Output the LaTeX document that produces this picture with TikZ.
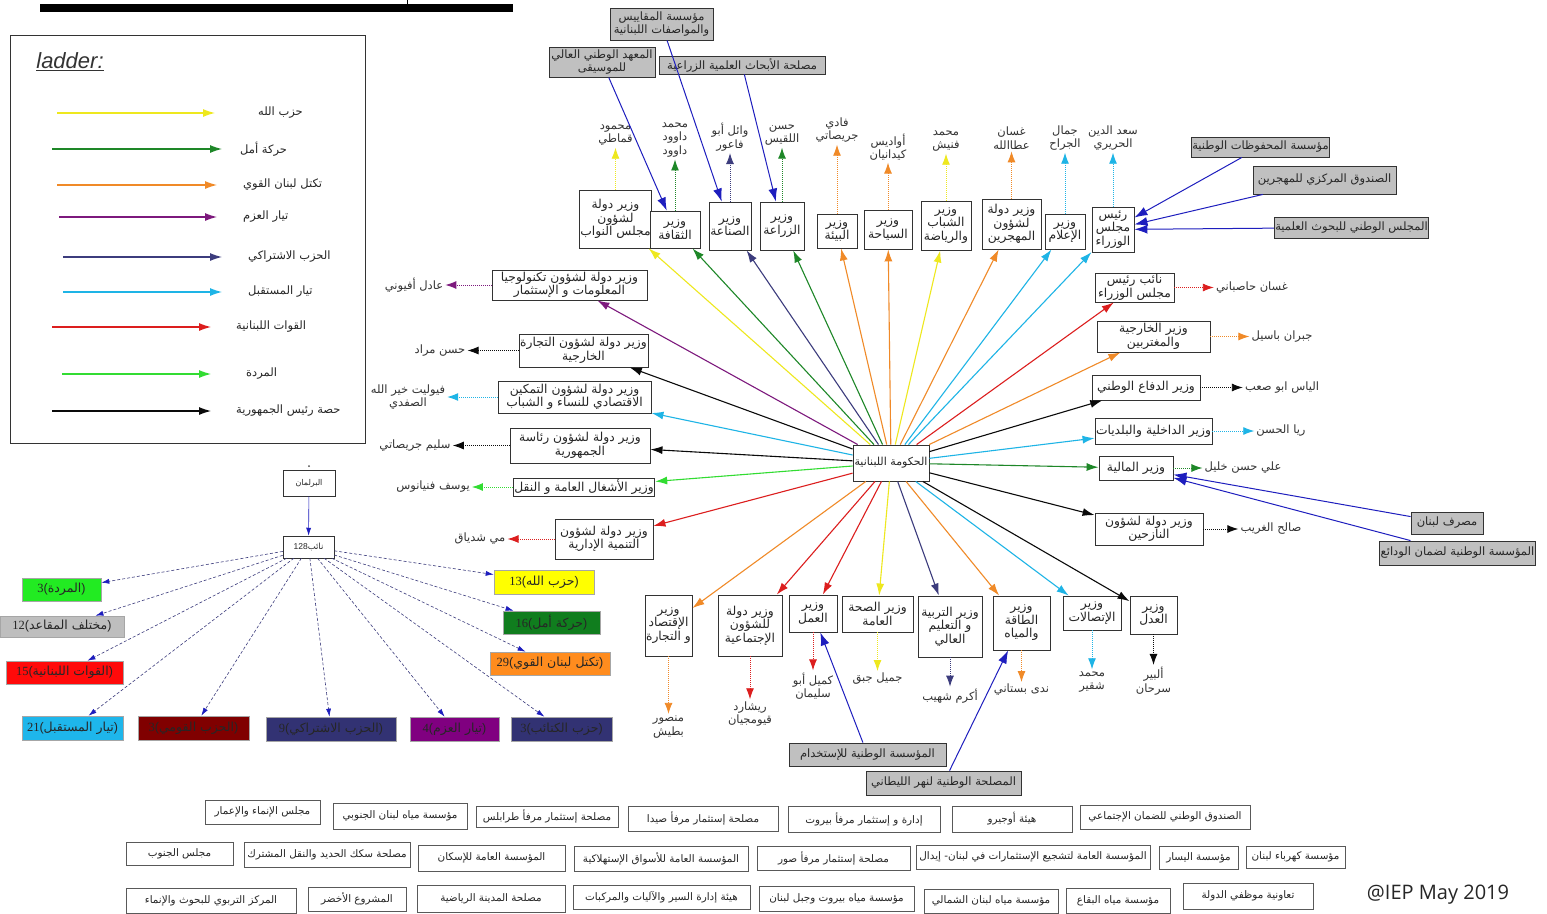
\documentclass[tikz,border=0pt]{standalone}
\usepackage{fontspec}
\usepackage{graphicx}
\usetikzlibrary{arrows.meta,calc}
\setmainfont{Liberation Sans}
\newfontfamily\arabicfont[Script=Arabic]{DejaVu Sans}
\newfontfamily\serifnum{Liberation Serif}
\newfontfamily\iepfont{Open Sans}
\TeXXeTstate=1
\newcommand\AR[1]{{\arabicfont\beginR #1\endR}}
\definecolor{cYel}{RGB}{238,232,30}
\definecolor{cGrn}{RGB}{30,135,40}
\definecolor{cOrg}{RGB}{240,138,40}
\definecolor{cPur}{RGB}{125,25,125}
\definecolor{cNav}{RGB}{60,60,125}
\definecolor{cCya}{RGB}{30,180,230}
\definecolor{cRed}{RGB}{220,30,30}
\definecolor{cLgr}{RGB}{50,220,50}
\definecolor{cBlk}{RGB}{10,10,10}
\definecolor{cBlu}{RGB}{30,30,190}
\definecolor{gFill}{RGB}{192,192,192}
\definecolor{pYel}{RGB}{255,255,0}
\definecolor{pDgr}{RGB}{16,125,30}
\definecolor{pOrg}{RGB}{255,140,30}
\definecolor{pLgr}{RGB}{34,235,34}
\definecolor{pGry}{RGB}{190,190,190}
\definecolor{pRed}{RGB}{255,10,10}
\definecolor{pCya}{RGB}{30,182,235}
\definecolor{pDrd}{RGB}{128,0,0}
\definecolor{pNav}{RGB}{50,50,115}
\definecolor{pPur}{RGB}{128,0,128}
\tikzset{
  box/.style={draw=black!80, line width=0.9pt, fill=white, inner sep=1pt, align=center,
    text=black!85, font=\fontsize{12.3}{13.5}\selectfont},
  gbox/.style={box, fill=gFill, font=\fontsize{11.5}{12.5}\selectfont},
  bbox/.style={draw=black!65, line width=0.7pt, fill=white, inner sep=1pt, align=center,
    text=black!85, font=\fontsize{10.4}{11}\selectfont},
  pbox/.style={draw=black!35, line width=0.6pt, inner sep=1pt, text=black!85,
    font=\fontsize{12.5}{14}\selectfont},
  lbl/.style={inner sep=1pt, align=center, text=black!80, font=\fontsize{11.5}{13.5}\selectfont},
  lgl/.style={inner sep=0pt, anchor=west, text=black!85, font=\fontsize{11.5}{12}\selectfont},
  edge/.style={line width=1.1pt, -{Latex[length=12pt,width=8pt]}},
  nmA/.style={line width=0.9pt, dash pattern=on 1pt off 1pt, shorten >=1pt, -{Latex[length=11pt,width=8pt]}},
  gA/.style={line width=1pt, cBlu, -{Latex[length=13pt,width=9pt]}},
  pline/.style={line width=0.6pt, cBlu, -{Latex[length=8pt,width=5pt]}},
  pdash/.style={line width=0.6pt, draw=cNav, dash pattern=on 3pt off 2pt, -{Latex[length=8pt,width=5pt,color=cBlu]}},
}
\begin{document}
\begin{tikzpicture}[x=1pt,y=-1pt]
\useasboundingbox (0,0) rectangle (1547,913);
\fill[white] (0,0) rectangle (1547,913);
% title bar (cut-off heading)
\fill[black] (40,4) rectangle (513,12);
\draw[line width=0.8pt] (407,0) -- (407,5);

% ---------------- legend ----------------
\draw[line width=0.8pt, black!80] (10,35) rectangle (365,443);
\node[inner sep=0pt, font=\fontsize{22}{24}\selectfont\rmfamily\itshape, text=black!80] (ladder) at (70,62) {\underline{ladder:}};
\draw[edge,cYel] (57,113) -- (215,113);
\node[lgl] (l1) at (258,113) {{\arabicfont\beginR حزب الله\endR}};
\draw[edge,cGrn] (52,149) -- (222,149);
\node[lgl] (l2) at (240,149) {{\arabicfont\beginR حركة أمل\endR}};
\draw[edge,cOrg] (57,185) -- (217,185);
\node[lgl] (l3) at (243,185) {{\arabicfont\beginR تكتل لبنان القوي\endR}};
\draw[edge,cPur] (59,217) -- (217,217);
\node[lgl] (l4) at (243,217) {{\arabicfont\beginR تيار العزم\endR}};
\draw[edge,cNav] (63,257) -- (222,257);
\node[lgl] (l5) at (248,257) {{\arabicfont\beginR الحزب الاشتراكي\endR}};
\draw[edge,cCya] (63,292) -- (222,292);
\node[lgl] (l6) at (248,292) {{\arabicfont\beginR تيار المستقبل\endR}};
\draw[edge,cRed] (52,327) -- (211,327);
\node[lgl] (l7) at (236,327) {{\arabicfont\beginR القوات اللبنانية\endR}};
\draw[edge,cLgr] (62,374) -- (211,374);
\node[lgl] (l8) at (246,374) {{\arabicfont\beginR المردة\endR}};
\draw[edge,cBlk] (52,411) -- (211,411);
\node[lgl] (l9) at (236,411) {{\arabicfont\beginR حصة رئيس الجمهورية\endR}};

% ---------------- centre ----------------
\node[box, minimum width=76, minimum height=36, font=\fontsize{11}{12}\selectfont] (gov) at (891,463) {\AR{الحكومة اللبنانية}};

% top ministers
\node[box, minimum width=69, minimum height=58] (mNuw) at (615.5,219) {\AR{وزير دولة}\\\AR{لشؤون}\\\AR{مجلس النواب}};
\node[box, minimum width=50, minimum height=37] (mTha) at (675,229.5) {\AR{وزير}\\\AR{الثقافة}};
\node[box, minimum width=42, minimum height=48] (mSin) at (730,226) {\AR{وزير}\\\AR{الصناعة}};
\node[box, minimum width=44, minimum height=48] (mZir) at (782,226) {\AR{وزير}\\\AR{الزراعة}};
\node[box, minimum width=40, minimum height=34] (mBii) at (837,231) {\AR{وزير}\\\AR{البيئة}};
\node[box, minimum width=48, minimum height=39] (mSiy) at (888,229.5) {\AR{وزير}\\\AR{السياحة}};
\node[box, minimum width=50, minimum height=49] (mShb) at (946,225.5) {\AR{وزير}\\\AR{الشباب}\\\AR{والرياضة}};
\node[box, minimum width=59, minimum height=50] (mMuh) at (1011.5,224) {\AR{وزير دولة}\\\AR{لشؤون}\\\AR{المهجرين}};
\node[box, minimum width=40, minimum height=35] (mIlm) at (1065,231.5) {\AR{وزير}\\\AR{الإعلام}};
\node[box, minimum width=42, minimum height=45] (mRai) at (1113,229.5) {\AR{رئيس}\\\AR{مجلس}\\\AR{الوزراء}};

% left ministers
\node[box, minimum width=155, minimum height=30] (mTek) at (569.5,285) {\AR{وزير دولة لشؤون تكنولوجيا}\\\AR{المعلومات و الإستثمار}};
\node[box, minimum width=129, minimum height=33] (mTij) at (583.5,350.5) {\AR{وزير دولة لشؤون التجارة}\\\AR{الخارجية}};
\node[box, minimum width=153, minimum height=32] (mTam) at (574.5,397) {\AR{وزير دولة لشؤون التمكين}\\\AR{الاقتصادي للنساء و الشباب}};
\node[box, minimum width=140, minimum height=35] (mRia) at (580,445.5) {\AR{وزير دولة لشؤون رئاسة}\\\AR{الجمهورية}};
\node[box, minimum width=140, minimum height=18] (mAsh) at (584,487) {\AR{وزير الأشغال العامة و النقل}};
\node[box, minimum width=98, minimum height=40] (mTan) at (604,539) {\AR{وزير دولة لشؤون}\\\AR{التنمية الإدارية}};

% right ministers
\node[box, minimum width=79, minimum height=29] (mNai) at (1134.5,287.5) {\AR{نائب رئيس}\\\AR{مجلس الوزراء}};
\node[box, minimum width=113, minimum height=31] (mKha) at (1153.5,336.5) {\AR{وزير الخارجية}\\\AR{والمغتربين}};
\node[box, minimum width=108, minimum height=25] (mDif) at (1146,387.5) {\AR{وزير الدفاع الوطني}};
\node[box, minimum width=113, minimum height=26] (mDak) at (1153.5,431) {\AR{وزير الداخلية والبلديات}};
\node[box, minimum width=74, minimum height=24] (mMal) at (1136,468) {\AR{وزير المالية}};
\node[box, minimum width=108, minimum height=32] (mNaz) at (1149,529) {\AR{وزير دولة لشؤون}\\\AR{النازحين}};

% bottom ministers
\node[box, minimum width=47, minimum height=61] (mIqt) at (668.5,625.5) {\AR{وزير}\\\AR{الإقتصاد}\\\AR{و التجارة}};
\node[box, minimum width=64, minimum height=61] (mIjt) at (750,625.5) {\AR{وزير دولة}\\\AR{للشؤون}\\\AR{الإجتماعية}};
\node[box, minimum width=48, minimum height=37] (mAml) at (813,613.5) {\AR{وزير}\\\AR{العمل}};
\node[box, minimum width=71, minimum height=36] (mSih) at (877.5,614) {\AR{وزير الصحة}\\\AR{العامة}};
\node[box, minimum width=64, minimum height=61] (mTar) at (950,626.5) {\AR{وزير التربية}\\\AR{و التعليم}\\\AR{العالي}};
\node[box, minimum width=57, minimum height=54] (mTaq) at (1021.5,623) {\AR{وزير}\\\AR{الطاقة}\\\AR{والمياه}};
\node[box, minimum width=58, minimum height=34] (mItt) at (1092,613) {\AR{وزير}\\\AR{الإتصالات}};
\node[box, minimum width=47, minimum height=38] (mAdl) at (1153.5,615) {\AR{وزير}\\\AR{العدل}};

% ---------------- names ----------------
\node[lbl] (nNuw) at (615.5,135) {\AR{محمود}\\\AR{قماطي}};
\node[lbl] (nTha) at (675,140) {\AR{محمد}\\\AR{داوود}\\\AR{داوود}};
\node[lbl] (nSin) at (730,137) {\AR{وائل أبو}\\\AR{فاعور}};
\node[lbl] (nZir) at (782,135) {\AR{حسن}\\\AR{اللقيس}};
\node[lbl] (nBii) at (837,130) {\AR{فادي}\\\AR{جريصاتي}};
\node[lbl] (nSiy) at (888,147) {\AR{أواديس}\\\AR{كيدانيان}};
\node[lbl] (nShb) at (946,141) {\AR{محمد}\\\AR{فنيش}};
\node[lbl] (nMuh) at (1011.5,138) {\AR{غسان}\\\AR{عطاالله}};
\node[lbl] (nIlm) at (1065,138) {\AR{جمال}\\\AR{الجراح}};
\node[lbl] (nRai) at (1113,138) {\AR{سعد الدين}\\\AR{الحريري}};

\node[lbl] (nTek) at (414,285) {\AR{عادل أفيوني}};
\node[lbl] (nTij) at (440,350.5) {\AR{حسن مراد}};
\node[lbl] (nTam) at (408,397) {\AR{فيوليت خير الله}\\\AR{الصفدي}};
\node[lbl] (nRia) at (415,445.5) {\AR{سليم جريصاتي}};
\node[lbl] (nAsh) at (433,487) {\AR{يوسف فنيانوس}};
\node[lbl] (nTan) at (480,539) {\AR{مي شدياق}};

\node[lbl] (nNai) at (1252,287.5) {\AR{غسان حاصباني}};
\node[lbl] (nKha) at (1282,336.5) {\AR{جبران باسيل}};
\node[lbl] (nDif) at (1282,387.5) {\AR{الياس ابو صعب}};
\node[lbl] (nDak) at (1281,431) {\AR{ريا الحسن}};
\node[lbl] (nMal) at (1243,468) {\AR{علي حسن خليل}};
\node[lbl] (nNaz) at (1271,529) {\AR{صالح الغريب}};

\node[lbl] (nIqt) at (668.5,727) {\AR{منصور}\\\AR{بطيش}};
\node[lbl] (nIjt) at (750,714) {\AR{ريشارد}\\\AR{قيومجيان}};
\node[lbl] (nAml) at (813,686) {\AR{كميل أبو}\\\AR{سليمان}};
\node[lbl] (nSih) at (877.5,679) {\AR{جميل جبق}};
\node[lbl] (nTar) at (950,696) {\AR{أكرم شهيب}};
\node[lbl] (nTaq) at (1021.5,690) {\AR{ندى بستاني}};
\node[lbl] (nItt) at (1092,682) {\AR{محمد}\\\AR{شقير}};
\node[lbl] (nAdl) at (1153.5,681) {\AR{ألبير}\\\AR{سرحان}};

% ---------------- gray institutions ----------------
\node[gbox, minimum width=103, minimum height=32] (gMaq) at (661.5,24) {\AR{مؤسسة المقاييس}\\\AR{والمواصفات اللبنانية}};
\node[gbox, minimum width=106, minimum height=30] (gMus) at (602,62) {\AR{المعهد الوطني العالي}\\\AR{للموسيقى}};
\node[gbox, minimum width=166, minimum height=18] (gAbh) at (742,65) {\AR{مصلحة الأبحاث العلمية الزراعية}};
\node[gbox, minimum width=131, minimum height=20] (gMah) at (1260.5,147) {\AR{مؤسسة المحفوظات الوطنية}};
\node[gbox, minimum width=143, minimum height=28] (gSun) at (1324.5,180) {\AR{الصندوق المركزي للمهجرين}};
\node[gbox, minimum width=147, minimum height=21] (gMaj) at (1351.5,227.5) {\AR{المجلس الوطني للبحوث العلمية}};
\node[gbox, minimum width=72, minimum height=22] (gMas) at (1447,523) {\AR{مصرف لبنان}};
\node[gbox, minimum width=155, minimum height=24] (gWad) at (1457.5,553) {\AR{المؤسسة الوطنية لضمان الودائع}};
\node[gbox, minimum width=157, minimum height=23] (gIst) at (867.5,754.5) {\AR{المؤسسة الوطنية للإستخدام}};
\node[gbox, minimum width=155, minimum height=24] (gLit) at (943.5,783) {\AR{المصلحة الوطنية لنهر الليطاني}};

% ---------------- edges from centre ----------------
\draw[edge,cYel] (gov) -- (mNuw);
\draw[edge,cGrn] (gov) -- (mTha);
\draw[edge,cNav] (gov) -- (mSin);
\draw[edge,cGrn] (gov) -- (mZir);
\draw[edge,cOrg] (gov) -- (mBii);
\draw[edge,cOrg] (gov) -- (mSiy);
\draw[edge,cYel] (gov) -- (mShb);
\draw[edge,cOrg] (gov) -- (mMuh);
\draw[edge,cCya] (gov) -- (mIlm);
\draw[edge,cCya] (gov) -- (mRai);
\draw[edge,cPur] (gov) -- (mTek);
\draw[edge,cBlk] (gov) -- (mTij);
\draw[edge,cCya] (gov) -- (mTam);
\draw[edge,cBlk] (gov) -- (mRia);
\draw[edge,cLgr] (gov) -- (mAsh);
\draw[edge,cRed] (gov) -- (mTan);
\draw[edge,cRed] (gov) -- (mNai);
\draw[edge,cOrg] (gov) -- (mKha);
\draw[edge,cBlk] (gov) -- (mDif);
\draw[edge,cCya] (gov) -- (mDak);
\draw[edge,cGrn] (gov) -- (mMal);
\draw[edge,cBlk] (gov) -- (mNaz);
\draw[edge,cOrg] (gov) -- (mIqt);
\draw[edge,cRed] (gov) -- (mIjt);
\draw[edge,cRed] (gov) -- (mAml);
\draw[edge,cYel] (gov) -- (mSih);
\draw[edge,cNav] (gov) -- (mTar);
\draw[edge,cOrg] (gov) -- (mTaq);
\draw[edge,cCya] (gov) -- (mItt);
\draw[edge,cBlk] (gov) -- (mAdl);

% ---------------- minister -> name ----------------
\draw[nmA,cYel] (mNuw) -- (nNuw);
\draw[nmA,cGrn] (mTha) -- (nTha);
\draw[nmA,cNav] (mSin) -- (nSin);
\draw[nmA,cGrn] (mZir) -- (nZir);
\draw[nmA,cOrg] (mBii) -- (nBii);
\draw[nmA,cOrg] (mSiy) -- (nSiy);
\draw[nmA,cYel] (mShb) -- (nShb);
\draw[nmA,cOrg] (mMuh) -- (nMuh);
\draw[nmA,cCya] (mIlm) -- (nIlm);
\draw[nmA,cCya] (mRai) -- (nRai);
\draw[nmA,cPur] (mTek) -- (nTek);
\draw[nmA,cBlk] (mTij) -- (nTij);
\draw[nmA,cCya] (mTam) -- (nTam);
\draw[nmA,cBlk] (mRia) -- (nRia);
\draw[nmA,cLgr] (mAsh) -- (nAsh);
\draw[nmA,cRed] (mTan) -- (nTan);
\draw[nmA,cRed] (mNai) -- (nNai);
\draw[nmA,cOrg] (mKha) -- (nKha);
\draw[nmA,cBlk] (mDif) -- (nDif);
\draw[nmA,cCya] (mDak) -- (nDak);
\draw[nmA,cGrn] (mMal) -- (nMal);
\draw[nmA,cBlk] (mNaz) -- (nNaz);
\draw[nmA,cOrg] (mIqt) -- (nIqt);
\draw[nmA,cRed] (mIjt) -- (nIjt);
\draw[nmA,cRed] (mAml) -- (nAml);
\draw[nmA,cYel] (mSih) -- (nSih);
\draw[nmA,cNav] (mTar) -- (nTar);
\draw[nmA,cOrg] (mTaq) -- (nTaq);
\draw[nmA,cCya] (mItt) -- (nItt);
\draw[nmA,cBlk] (mAdl) -- (nAdl);

% ---------------- institutions -> ministers ----------------
\draw[gA] (gMus) -- (mTha);
\draw[gA] (gMaq) -- (mSin);
\draw[gA] (gAbh) -- (mZir);
\draw[gA] (gMah) -- (mRai);
\draw[gA] (gSun) -- (mRai);
\draw[gA] (gMaj) -- (mRai);
\draw[gA] (gMas) -- (mMal);
\draw[gA] (gWad) -- (mMal);
\draw[gA] (gIst) -- (mAml);
\draw[gA] (gLit) -- (mTaq);

% ---------------- parliament ----------------
\node[box, line width=0.5pt, minimum width=52, minimum height=26, font=\fontsize{8}{9}\selectfont] (parl) at (309,483) {\AR{البرلمان}};
\node[box, line width=0.5pt, minimum width=51, minimum height=22, font=\fontsize{8.5}{9}\selectfont] (n128) at (308.5,547) {128\AR{نائب}};
\fill[black!70] (309,466) circle (1);
\node[pbox, fill=pYel, minimum width=100, minimum height=24] (pY) at (544,582) {{\serifnum 13}({\arabicfont\beginR حزب الله\endR})};
\node[pbox, fill=pDgr, minimum width=97, minimum height=23] (pDG) at (551.5,622.5) {{\serifnum 16}({\arabicfont\beginR حركة أمل\endR})};
\node[pbox, fill=pOrg, minimum width=120, minimum height=23] (pO) at (550,663.5) {{\serifnum 29}({\arabicfont\beginR تكتل لبنان القوي\endR})};
\node[pbox, fill=pLgr, minimum width=79, minimum height=23] (pMG) at (61.5,589.5) {{\serifnum 3}({\arabicfont\beginR المردة\endR})};
\node[pbox, fill=pGry, minimum width=124, minimum height=21] (pGr) at (62,626.5) {{\serifnum 12}({\arabicfont\beginR مختلف المقاعد\endR})};
\node[pbox, fill=pRed, minimum width=117, minimum height=23] (pR) at (64.5,672.5) {{\serifnum 15}({\arabicfont\beginR القوات اللبنانية\endR})};
\node[pbox, fill=pCya, minimum width=101, minimum height=24] (pC) at (72.5,728) {{\serifnum 21}({\arabicfont\beginR تيار المستقبل\endR})};
\node[pbox, fill=pDrd, minimum width=111, minimum height=24] (pDR) at (193.5,728) {{\serifnum 3}({\arabicfont\beginR الحزب القومي\endR})};
\node[pbox, fill=pNav, minimum width=130, minimum height=24] (pN1) at (331,729) {{\serifnum 9}({\arabicfont\beginR الحزب الاشتراكي\endR})};
\node[pbox, fill=pPur, minimum width=89, minimum height=24] (pP) at (454.5,729) {{\serifnum 4}({\arabicfont\beginR تيار العزم\endR})};
\node[pbox, fill=pNav, minimum width=101, minimum height=24] (pN2) at (561.5,729) {{\serifnum 3}({\arabicfont\beginR حزب الكتائب\endR})};
\draw[pline] (parl) -- (n128);
\foreach \t in {pY,pDG,pO,pMG,pGr,pR,pC,pDR,pN1,pP,pN2}
  \draw[pdash] (n128) -- (\t);

% ---------------- other public institutions ----------------
\node[bbox, minimum width=115, minimum height=24] (b11) at (262.5,812) {\AR{مجلس الإنماء والإعمار}};
\node[bbox, minimum width=134, minimum height=26] (b12) at (400,816) {\AR{مؤسسة مياه لبنان الجنوبي}};
\node[bbox, minimum width=142, minimum height=21] (b13) at (547,816.5) {\AR{مصلحة إستثمار مرفأ طرابلس}};
\node[bbox, minimum width=150, minimum height=25] (b14) at (703,818.5) {\AR{مصلحة إستثمار مرفأ صيدا}};
\node[bbox, minimum width=152, minimum height=26] (b15) at (864,819) {\AR{إدارة و إستثمار مرفأ بيروت}};
\node[bbox, minimum width=120, minimum height=26] (b16) at (1012,819) {\AR{هيئة أوجيرو}};
\node[bbox, minimum width=170, minimum height=24] (b17) at (1165,817) {\AR{الصندوق الوطني للضمان الإجتماعي}};
\node[bbox, minimum width=107, minimum height=23] (b21) at (179.5,853.5) {\AR{مجلس الجنوب}};
\node[bbox, minimum width=166, minimum height=25] (b22) at (327,854.5) {\AR{مصلحة سكك الحديد والنقل المشترك}};
\node[bbox, minimum width=147, minimum height=26] (b23) at (491.5,858) {\AR{المؤسسة العامة للإسكان}};
\node[bbox, minimum width=174, minimum height=25] (b24) at (661,858.5) {\AR{المؤسسة العامة للأسواق الإستهلاكية}};
\node[bbox, minimum width=153, minimum height=24] (b25) at (833.5,858) {\AR{مصلحة إستثمار مرفأ صور}};
\node[bbox, minimum width=234, minimum height=24] (b26) at (1033,857) {\AR{المؤسسة العامة لتشجيع الإستثمارات في لبنان- إيدال}};
\node[bbox, minimum width=79, minimum height=23] (b27) at (1198.5,857.5) {\AR{مؤسسة اليسار}};
\node[bbox, minimum width=99, minimum height=22] (b28) at (1295.5,857) {\AR{مؤسسة كهرباء لبنان}};
\node[bbox, minimum width=170, minimum height=25] (b31) at (211,900.5) {\AR{المركز التربوي للبحوث والإنماء}};
\node[bbox, minimum width=98, minimum height=24] (b32) at (357,899) {\AR{المشروع الأخضر}};
\node[bbox, minimum width=148, minimum height=27] (b33) at (491,898.5) {\AR{مصلحة المدينة الرياضية}};
\node[bbox, minimum width=177, minimum height=24] (b34) at (661.5,897) {\AR{هيئة إدارة السير والآليات والمركبات}};
\node[bbox, minimum width=155, minimum height=25] (b35) at (836.5,898.5) {\AR{مؤسسة مياه بيروت وجبل لبنان}};
\node[bbox, minimum width=134, minimum height=24] (b36) at (991,901) {\AR{مؤسسة مياه لبنان الشمالي}};
\node[bbox, minimum width=104, minimum height=25] (b37) at (1118,900.5) {\AR{مؤسسة مياه البقاع}};
\node[bbox, minimum width=130, minimum height=26] (b38) at (1248,896) {\AR{تعاونية موظفي الدولة}};

\node[inner sep=0pt, font=\iepfont\fontsize{20}{22}\selectfont, text=black!85] (iep) at (1438,895) {@IEP May 2019};
\end{tikzpicture}
\end{document}
